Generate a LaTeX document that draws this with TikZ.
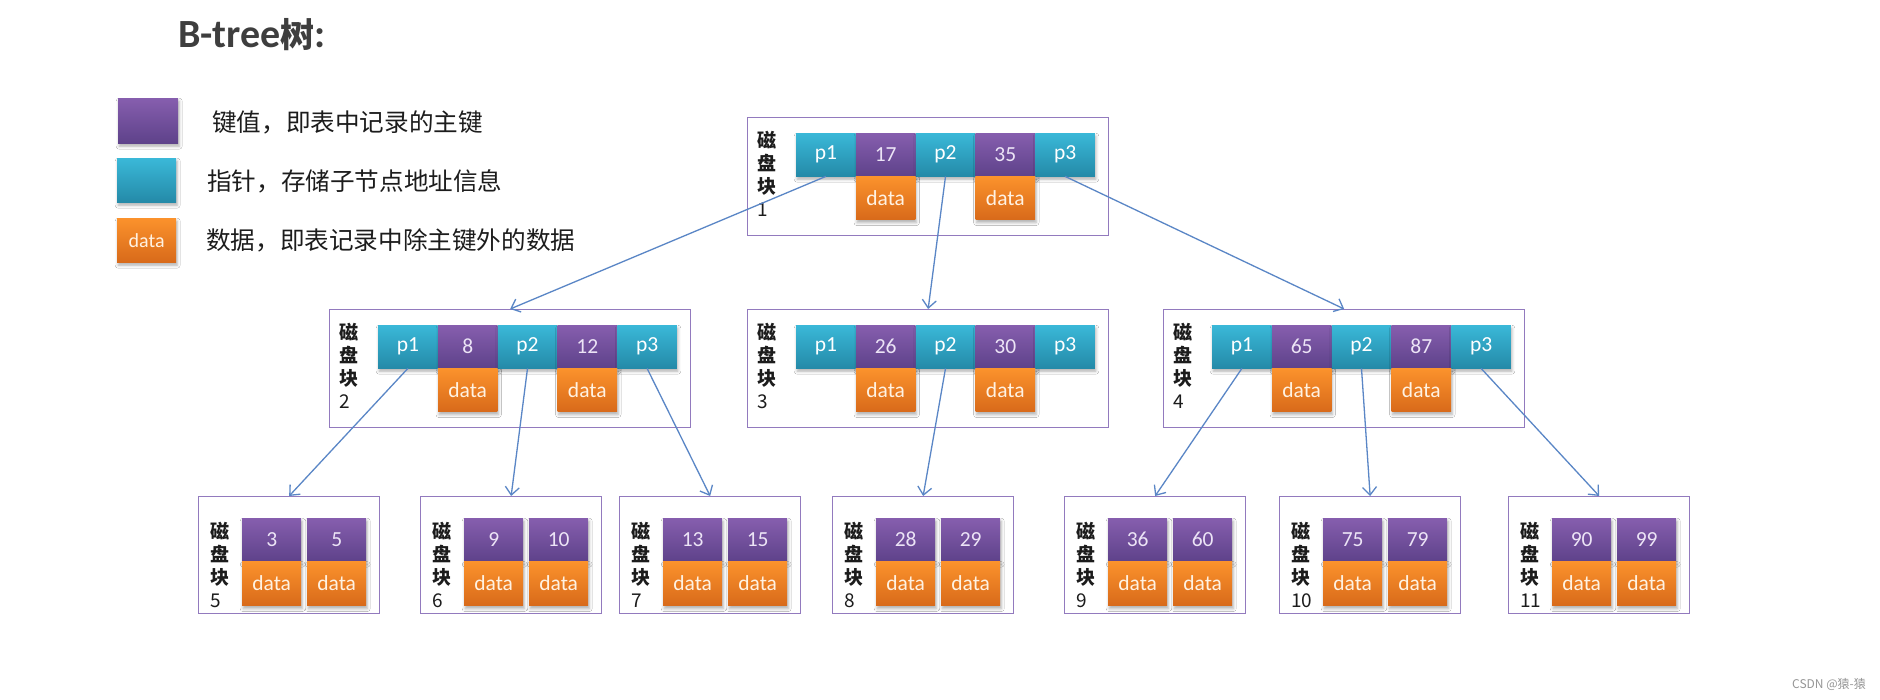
\documentclass[tikz,border=0pt]{standalone}
\usepackage{fontspec}
\setmainfont{Carlito}
\newfontfamily\cjk{Noto Sans CJK SC}
\usetikzlibrary{arrows.meta,shadows.blur}

\definecolor{keytop}{RGB}{134,94,174}
\definecolor{keybot}{RGB}{94,66,138}
\definecolor{keyink}{RGB}{236,228,246}
\definecolor{ptrtop}{RGB}{58,184,216}
\definecolor{ptrbot}{RGB}{36,138,168}
\definecolor{dattop}{RGB}{251,146,44}
\definecolor{datbot}{RGB}{216,106,26}
\definecolor{datink}{RGB}{255,242,226}
\definecolor{framecol}{RGB}{146,122,190}
\definecolor{linkblue}{RGB}{90,134,198}
\definecolor{ink}{RGB}{28,28,28}
\definecolor{titleink}{RGB}{62,62,62}
\definecolor{markgray}{RGB}{150,150,150}

\tikzset{
  cell/.style={rectangle, inner sep=0pt, minimum width=59.4pt, minimum height=43pt,
    font=\fontsize{21.5}{21.5}\selectfont,
    blur shadow={shadow xshift=1pt, shadow yshift=-3pt, shadow blur radius=3pt, shadow opacity=32}},
  keycell/.style={cell, top color=keytop, bottom color=keybot, text=keyink},
  ptrcell/.style={cell, top color=ptrtop, bottom color=ptrbot, text=white},
  datcell/.style={cell, top color=dattop, bottom color=datbot, text=datink},
  blockbox/.style={rectangle, draw=framecol, line width=1.3pt, fill=white, inner sep=0pt},
  blocklabel/.style={font=\cjk\bfseries\fontsize{19}{23}\selectfont, align=left, inner sep=0pt, text=ink},
  legendtext/.style={font=\cjk\fontsize{24.6}{26}\selectfont, inner sep=0pt, text=ink},
  linkarrow/.style={draw=linkblue, line width=1.3pt,
    -{Straight Barb[length=8pt,width=14pt,line width=1.3pt]}},
}

% inner block: name, left, top, key 1, key 2, block number
\newcommand\innerblock[6]{%
  \node[blockbox, anchor=north west, minimum width=361pt, minimum height=118pt] (#1) at (#2,#3) {};
  \node[blocklabel, anchor=west] (#1lab) at (#2+10,#3+57) {磁\\盘\\块\\{\mdseries #6}};
  \node[ptrcell, anchor=north west] (#1p1) at (#2+49,#3+16) {p1};
  \node[keycell, anchor=north west] (#1k1) at (#1p1.north east) {#4};
  \node[ptrcell, anchor=north west] (#1p2) at (#1k1.north east) {p2};
  \node[keycell, anchor=north west] (#1k2) at (#1p2.north east) {#5};
  \node[ptrcell, anchor=north west] (#1p3) at (#1k2.north east) {p3};
  \node[datcell, anchor=north] (#1d1) at (#1k1.south) {data};
  \node[datcell, anchor=north] (#1d2) at (#1k2.south) {data};
}

% leaf block: name, left, block number, key 1, key 2
\newcommand\leafblock[5]{%
  \node[blockbox, anchor=north west, minimum width=181pt, minimum height=117pt] (#1) at (#2,496) {};
  \node[blocklabel, anchor=west] (#1lab) at (#2+12,565) {磁\\盘\\块\\{\mdseries #3}};
  \node[keycell, anchor=north west, minimum width=59pt] (#1k1) at (#2+44,518) {#4};
  \node[keycell, anchor=north west, minimum width=59pt] (#1k2) at (#2+109,518) {#5};
  \node[datcell, anchor=north, minimum width=59pt, minimum height=44pt] (#1d1) at (#1k1.south) {data};
  \node[datcell, anchor=north, minimum width=59pt, minimum height=44pt] (#1d2) at (#1k2.south) {data};
}

\begin{document}
\begin{tikzpicture}[x=1pt, y=-1pt]
\useasboundingbox (0,0) rectangle (1880,700);
\fill[white] (0,0) rectangle (1880,700);

% heading
\node[anchor=base west, inner sep=0pt, text=titleink,
  font=\fontsize{40}{40}\selectfont\bfseries] (title) at (178,48)
  {B-tree{\cjk\fontsize{34}{34}\selectfont 树}:};

% legend
\node[keycell, anchor=north west, minimum width=60pt, minimum height=45pt] (lgkey) at (118,98) {};
\node[ptrcell, anchor=north west, minimum width=59pt, minimum height=44pt] (lgptr) at (117,158) {};
\node[datcell, anchor=north west, minimum width=59pt, minimum height=44pt,
  font=\fontsize{20}{20}\selectfont] (lgdat) at (117,218) {data};
\node[legendtext, anchor=west] (lgkeytxt) at (212,122) {键值，即表中记录的主键};
\node[legendtext, anchor=west] (lgptrtxt) at (207,181) {指针，存储子节点地址信息};
\node[legendtext, anchor=west] (lgdattxt) at (206,240) {数据，即表记录中除主键外的数据};

% root and second level
\innerblock{b1}{747}{117}{17}{35}{1}
\innerblock{b2}{329}{309}{8}{12}{2}
\innerblock{b3}{747}{309}{26}{30}{3}
\innerblock{b4}{1163}{309}{65}{87}{4}

% leaves
\leafblock{b5}{198}{5}{3}{5}
\leafblock{b6}{420}{6}{9}{10}
\leafblock{b7}{619}{7}{13}{15}
\leafblock{b8}{832}{8}{28}{29}
\leafblock{b9}{1064}{9}{36}{60}
\leafblock{b10}{1279}{10}{75}{79}
\leafblock{b11}{1508}{11}{90}{99}

% child pointers
\draw[linkarrow] (b1p1.south) -- (b2.north);
\draw[linkarrow] (b1p2.south) -- (b3.north);
\draw[linkarrow] (b1p3.south) -- (b4.north);
\draw[linkarrow] (b2p1.south) -- (b5.north);
\draw[linkarrow] (b2p2.south) -- (b6.north);
\draw[linkarrow] (b2p3.south) -- (b7.north);
\draw[linkarrow] (b3p2.south) -- (b8.north);
\draw[linkarrow] (b4p1.south) -- (b9.north);
\draw[linkarrow] (b4p2.south) -- (b10.north);
\draw[linkarrow] (b4p3.south) -- (b11.north);

% watermark
\node[anchor=east, inner sep=0pt, text=markgray, font=\cjk\fontsize{12}{12}\selectfont]
  (mark) at (1866,684) {CSDN @猿-猿};
\end{tikzpicture}
\end{document}
